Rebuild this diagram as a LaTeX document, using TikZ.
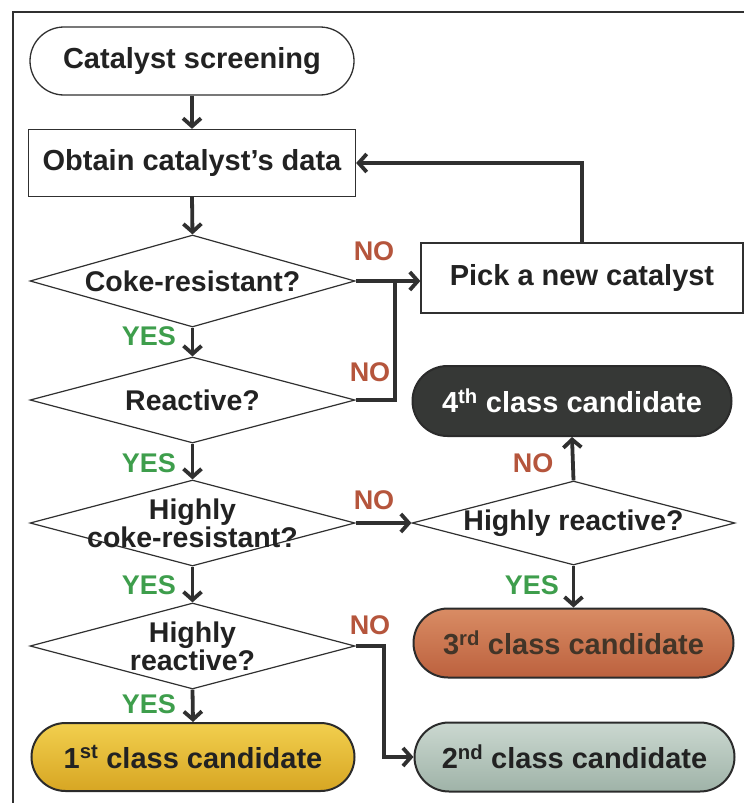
\documentclass[tikz,border=0pt]{standalone}
\usepackage{fontspec}
\setmainfont{Liberation Sans}
\usetikzlibrary{shapes.geometric,shapes.misc,arrows.meta}
\definecolor{ln}{HTML}{303030}
\definecolor{tx}{HTML}{222222}
\definecolor{yesc}{HTML}{3E9E4C}
\definecolor{noc}{HTML}{B5553C}
\definecolor{c1top}{HTML}{F2CF4E}
\definecolor{c1bot}{HTML}{D7A623}
\definecolor{c2top}{HTML}{CBD8D0}
\definecolor{c2bot}{HTML}{9FB3A8}
\definecolor{c3top}{HTML}{D98C64}
\definecolor{c3bot}{HTML}{BC613E}
\definecolor{c4col}{HTML}{363836}
\begin{document}
\begin{tikzpicture}[x=1pt,y=-1pt,
  font=\fontsize{29}{30}\selectfont\bfseries,
  boxn/.style={rectangle, draw=ln, line width=1.3pt, fill=white, text=tx, inner sep=2pt},
  stad/.style={rounded rectangle, draw=ln, line width=1.3pt, text=tx, inner sep=2pt},
  cand/.style={rounded rectangle, draw=ln!90!black, line width=2pt, text=tx, inner sep=2pt,
     minimum width=324pt, minimum height=69pt},
  dia/.style={diamond, draw=ln, line width=1.2pt, inner sep=0pt, minimum width=325pt},
  dtxt/.style={align=center, text=tx, inner sep=0pt, font=\fontsize{28.5}{25}\selectfont\bfseries},
  conn/.style={draw=ln, line width=3.8pt},
  arr/.style={conn, -{Straight Barb[length=8pt,width=18pt]}},
  yes/.style={text=yesc, inner sep=0pt, font=\fontsize{27}{28}\selectfont\bfseries},
  no/.style={text=noc, inner sep=0pt, font=\fontsize{27}{28}\selectfont\bfseries}]
\useasboundingbox (0,0) rectangle (744,803);
\fill[white] (0,0) rectangle (744,803);
% frame
\draw[line width=1.3pt, ln] (13,803) -- (13,12) -- (744,12);

% left column
\node[stad, minimum width=328pt, minimum height=68pt] (cs) at (192,61) {Catalyst screening};
\node[boxn, minimum width=327pt, minimum height=67pt] (ob) at (192,163) {Obtain catalyst’s data};
\node[dia, minimum height=92pt] (d1) at (192.5,281) {};
\node[dtxt] (t1) at (d1) {Coke-resistant?};
\node[dia, minimum height=86pt] (d2) at (192.5,400) {};
\node[dtxt] (t2) at (d2) {Reactive?};
\node[dia, minimum height=86pt] (d3) at (192.5,523) {};
\node[dtxt] (t3) at (d3) {Highly\\coke-resistant?};
\node[dia, minimum height=86pt] (d4) at (192.5,646) {};
\node[dtxt] (t4) at (d4) {Highly\\reactive?};
\node[cand, top color=c1top, bottom color=c1bot, minimum width=327pt, minimum height=68pt] (c1) at (193,757) {1\textsuperscript{st} class candidate};

% right column
\node[boxn, minimum width=322pt, minimum height=70pt] (pk) at (582,278) {Pick a new catalyst};
\node[cand, fill=c4col, text=white, minimum width=323pt, minimum height=70pt] (c4) at (572,401) {4\textsuperscript{th} class candidate};
\node[dia, minimum width=323pt, minimum height=84pt] (d5) at (573.5,523) {};
\node[dtxt] (t5) at (d5) {Highly reactive?};
\node[cand, top color=c3top, bottom color=c3bot, text=tx!80!brown] (c3) at (573.5,643) {3\textsuperscript{rd} class candidate};
\node[cand, top color=c2top, bottom color=c2bot] (c2) at (574.5,757) {2\textsuperscript{nd} class candidate};

% connectors
\draw[arr] (cs.south) -- (ob.north);
\draw[arr] (ob.south) -- (d1.north);
\draw[arr] (d1.south) -- (d2.north);
\draw[arr] (d2.south) -- (d3.north);
\draw[arr] (d3.south) -- (d4.north);
\draw[arr] (d4.south) -- (c1.north);
\draw[arr] (d1.east) -- (d1.east -| pk.west);
\coordinate (j1) at (395,281);
\draw[conn] (d2.east) -| (j1);
\draw[arr] (pk.north) |- (ob.east);
\draw[arr] (d3.east) -- (d5.west);
\draw[arr] (d5.north) -- (c4.south);
\draw[arr] (d5.south) -- (c3.north);
\draw[arr] (d4.east) -- ++(28,0) |- (c2.west);

% labels
\node[yes, anchor=east] (y1) at (176,336) {YES};
\node[yes, anchor=east] (y2) at (176,463) {YES};
\node[yes, anchor=east] (y3) at (176,585) {YES};
\node[yes, anchor=east] (y4) at (176,704) {YES};
\node[yes, anchor=east] (y5) at (559,585) {YES};
\node[no] (n1) at (374,251) {NO};
\node[no] (n2) at (370,372) {NO};
\node[no] (n3) at (374,500) {NO};
\node[no] (n4) at (370,625) {NO};
\node[no] (n5) at (533,463) {NO};
\end{tikzpicture}
\end{document}
